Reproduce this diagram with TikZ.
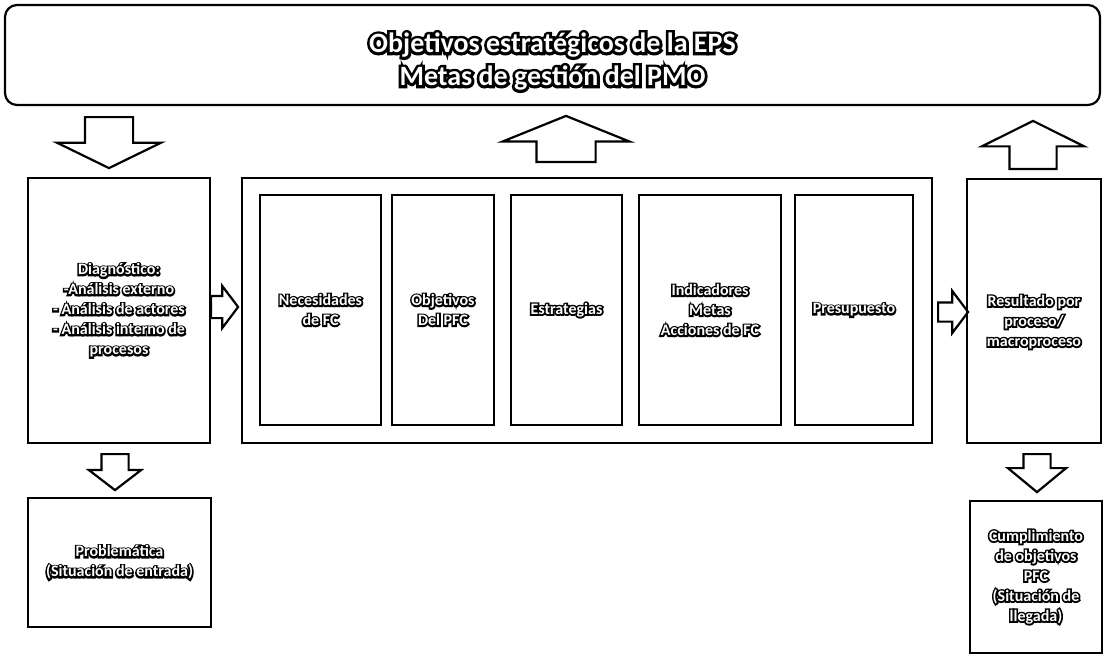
\documentclass[tikz,border=0pt]{standalone}
\usepackage{fontspec}
\setmainfont{Carlito}
\newfontfamily\gordo{Carlito}[UprightFeatures={FakeBold=20},BoldFeatures={FakeBold=20}]
\usetikzlibrary{shapes.arrows}
% texto blanco con borde negro
\newcommand{\ol}[1]{\rlap{\gordo\color{black}#1}#1}

\begin{document}
\begin{tikzpicture}[x=1pt,y=-1pt,
  caja/.style={draw,line width=2.2pt,inner sep=0pt,text=white,align=center,
    font=\bfseries\fontsize{16}{20}\selectfont},
  txt/.style={text=white,align=center,inner sep=0pt,font=\bfseries\fontsize{16}{20}\selectfont},
  flecha/.style={draw,line width=2.2pt,single arrow,single arrow head indent=0pt,
    inner xsep=0pt,anchor=tail}]
\useasboundingbox (0,0) rectangle (1104,656);
% cuadro superior
\node[caja,rounded corners=12pt,minimum width=1095pt,minimum height=100pt] (obj) at (552.5,55) {};
\node[txt,font=\bfseries\fontsize{28}{33}\selectfont] (objt) at (552.5,61.5)
  {\ol{Objetivos estratégicos de la EPS}\\\ol{Metas de gestión del PMO}};
% fila central
\node[caja,minimum width=182pt,minimum height=265pt] (diag) at (119,310.5)
  {\ol{Diagnóstico:}\\\ol{-Análisis externo}\\\ol{- Análisis de actores}\\
   \ol{- Análisis interno de}\\\ol{procesos}};
\node[caja,minimum width=690pt,minimum height=265pt] (marco) at (587,310.5) {};
\node[caja,minimum width=121pt,minimum height=230pt] (nec) at (320.5,310)
  {\ol{Necesidades}\\\ol{de FC}};
\node[caja,minimum width=102pt,minimum height=230pt] (pfc) at (443,310)
  {\ol{Objetivos}\\\ol{Del PFC}};
\node[caja,minimum width=111pt,minimum height=230pt] (est) at (566.5,310)
  {\ol{Estrategias}};
\node[caja,minimum width=142pt,minimum height=230pt] (ind) at (710,310)
  {\ol{Indicadores}\\\ol{Metas}\\\ol{Acciones de FC}};
\node[caja,minimum width=118pt,minimum height=230pt] (pre) at (854,310)
  {\ol{Presupuesto}};
\node[caja,minimum width=134pt,minimum height=264pt] (res) at (1034,311) {};
\node[txt] (rest) at (1034,322)
  {\ol{Resultado por}\\\ol{proceso/}\\\ol{macroproceso}};
% fila inferior
\node[caja,minimum width=183pt,minimum height=129pt] (prob) at (119.5,562.5)
  {\ol{Problemática}\\\ol{(Situación de entrada)}};
\node[caja,minimum width=132pt,minimum height=152pt] (cump) at (1036,577)
  {\ol{Cumplimiento}\\\ol{de objetivos}\\\ol{PFC}\\\ol{(Situación de}\\\ol{llegada)}};
% flechas
\node[flecha,rotate=270,minimum height=51pt,minimum width=102pt,inner ysep=23pt,
  single arrow head extend=28pt,single arrow tip angle=128] (f0) at (109,116) {};
\node[flecha,rotate=90,minimum height=46pt,minimum width=125pt,inner ysep=28.5pt,
  single arrow head extend=34pt,single arrow tip angle=136] (f1) at (566,163) {};
\node[flecha,rotate=90,minimum height=48pt,minimum width=100pt,inner ysep=22.5pt,
  single arrow head extend=27.5pt,single arrow tip angle=127] (f2) at (1033,170) {};
\node[flecha,minimum height=27pt,minimum width=40pt,inner ysep=10pt,
  single arrow head extend=10pt,single arrow tip angle=106] (f3) at (210,307) {};
\node[flecha,minimum height=30pt,minimum width=40pt,inner ysep=8.5pt,
  single arrow head extend=11.5pt,single arrow tip angle=106] (f4) at (937,312) {};
\node[flecha,rotate=270,minimum height=36pt,minimum width=50pt,inner ysep=12.5pt,
  single arrow head extend=12.5pt,single arrow tip angle=105] (f5) at (115,453) {};
\node[flecha,rotate=270,minimum height=38pt,minimum width=56pt,inner ysep=12.5pt,
  single arrow head extend=15.5pt,single arrow tip angle=101] (f6) at (1037,453) {};
\end{tikzpicture}
\end{document}
